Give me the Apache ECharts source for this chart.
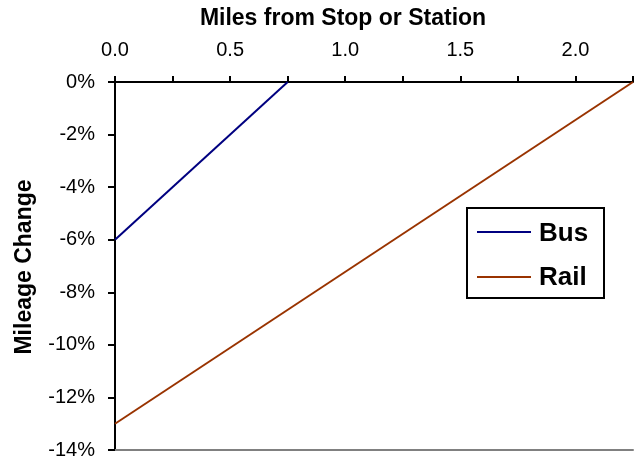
<!DOCTYPE html>
<html><head><meta charset="utf-8">
<script src="https://cdn.jsdelivr.net/npm/echarts@6/dist/echarts.min.js"></script>
<style>html,body{margin:0;padding:0;background:#fff}#c{width:636px;height:460px}</style>
</head><body><div id="c"></div>
<script>
const busMiles = [0, 0.75];
const busChange = [-0.06, 0];
const railMiles = [0, 2.25];
const railChange = [-0.13, 0];
const xTitle = 'Miles from Stop or Station';
const yTitle = 'Mileage Change';

const chart = echarts.init(document.getElementById('c'));
const font = 'Liberation Sans, Arial, sans-serif';
chart.setOption({
  animation: false,
  backgroundColor: '#fff',
  grid: {left: 115, right: 0, top: 82, bottom: 10, containLabel: false},
  xAxis: [{
    type: 'value', position: 'top', min: 0, max: 2.25, interval: 0.25,
    axisLine: {show: true, onZero: false, lineStyle: {color: '#000', width: 2}},
    axisTick: {show: true, inside: false, length: 6, lineStyle: {color: '#000', width: 2}},
    axisLabel: {margin: 22, fontSize: 20, color: '#000', fontFamily: font,
      formatter: v => (Math.abs(v * 2 - Math.round(v * 2)) < 1e-6 && v <= 2.0) ? v.toFixed(1) : ''},
    splitLine: {show: false}
  }, {
    type: 'value', position: 'bottom', min: 0, max: 2.25,
    axisLine: {show: true, onZero: false, lineStyle: {color: '#808080', width: 2}},
    axisTick: {show: false}, axisLabel: {show: false}, splitLine: {show: false}
  }],
  yAxis: {
    type: 'value', min: -0.14, max: 0, interval: 0.02,
    axisLine: {show: true, onZero: false, lineStyle: {color: '#000', width: 2}},
    axisTick: {show: true, length: 7, lineStyle: {color: '#000', width: 2}},
    axisLabel: {margin: 20, fontSize: 20, color: '#000', fontFamily: font,
      formatter: v => Math.round(v * 100) + '%'},
    splitLine: {show: false}
  },
  legend: {show: false},
  series: [{
    name: 'Bus', type: 'line', showSymbol: false, xAxisIndex: 0,
    data: busMiles.map((m, i) => [m, busChange[i]]),
    lineStyle: {color: '#000080', width: 2}, itemStyle: {color: '#000080'}
  }, {
    name: 'Rail', type: 'line', showSymbol: false, xAxisIndex: 0,
    data: railMiles.map((m, i) => [m, railChange[i]]),
    lineStyle: {color: '#993300', width: 2}, itemStyle: {color: '#993300'}
  }],
  graphic: [
    {type: 'text', x: 343, y: 19, style: {text: xTitle, font: 'bold 23px ' + font, fill: '#000', align: 'center', verticalAlign: 'middle'}},
    {type: 'text', x: 25, y: 267, rotation: Math.PI / 2,
      style: {text: yTitle, font: 'bold 23px ' + font, fill: '#000', align: 'center', verticalAlign: 'middle'}},
    {type: 'rect', shape: {x: 467, y: 208, width: 137, height: 90},
      style: {fill: '#fff', stroke: '#000', lineWidth: 2}},
    {type: 'line', shape: {x1: 477, y1: 232, x2: 531, y2: 232}, style: {stroke: '#000080', lineWidth: 2}},
    {type: 'line', shape: {x1: 477, y1: 277, x2: 531, y2: 277}, style: {stroke: '#993300', lineWidth: 2}},
    {type: 'text', x: 539, y: 234, style: {text: 'Bus', font: 'bold 26px ' + font, fill: '#000', verticalAlign: 'middle'}},
    {type: 'text', x: 539, y: 278, style: {text: 'Rail', font: 'bold 26px ' + font, fill: '#000', verticalAlign: 'middle'}}
  ]
});
</script></body></html>
